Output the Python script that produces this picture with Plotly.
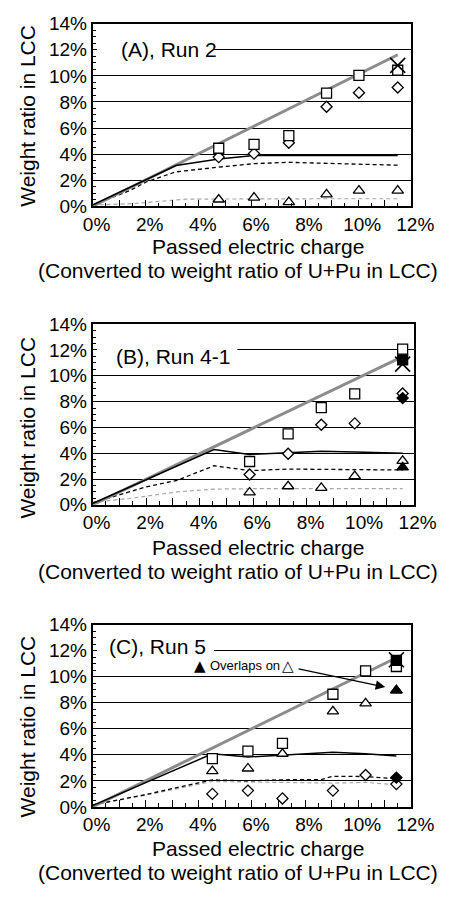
import plotly.graph_objects as go

# ---------------- data ----------------
# Panel A, Run 2
xA = [4.75, 6.08, 7.39, 8.81, 10.03, 11.49]
sqA = [4.45, 4.74, 5.41, 8.68, 10.03, 10.43]
diA = [3.77, 4.04, 4.87, 7.63, 8.71, 9.11]
trA = [0.52, 0.67, 0.32, 0.92, 1.20, 1.20]
xmA_x = [11.49]
xmA_y = [10.80]
theoA_x = [0, 11.49]
theoA_y = [0, 11.62]
solidA_x = [0, 3.14, 4.75, 6.08, 7.39, 8.81, 10.03, 11.49]
solidA_y = [0.10, 3.12, 3.62, 3.89, 3.89, 3.89, 3.89, 3.89]
dashA_x = [0, 1.4, 2.0, 3.14, 4.75, 6.08, 7.39, 8.81, 10.03, 11.49]
dashA_y = [0.10, 1.20, 1.85, 2.64, 3.00, 3.27, 3.37, 3.28, 3.25, 3.15]
gdashA_x = [0, 1.5, 3.5, 4.75, 6.08, 7.39, 8.81, 10.03, 11.49]
gdashA_y = [0.10, 0.20, 0.55, 0.57, 0.58, 0.58, 0.58, 0.58, 0.58]

# Panel B, Run 4-1
xB = [5.87, 7.31, 8.55, 9.80, 11.59]
sqB = [3.36, 5.50, 7.54, 8.60, 12.06]
diB = [2.35, 3.96, 6.21, 6.31, 8.63]
trB = [0.96, 1.44, 1.31, 2.22, 3.41]
fillB_x = [11.59]
fsqB = [11.23]
fdiB = [8.27]
ftrB = [2.90]
xmB_y = [10.90]
theoB_x = [0, 11.59]
theoB_y = [0, 11.48]
solidB_x = [0, 4.54, 5.87, 7.31, 8.55, 9.80, 11.59]
solidB_y = [0.10, 4.29, 3.91, 4.04, 4.16, 4.09, 3.99]
dashB_x = [0, 2.0, 3.16, 4.54, 5.87, 7.31, 8.55, 9.80, 11.59]
dashB_y = [0.15, 1.39, 1.90, 3.03, 2.65, 2.77, 2.75, 2.72, 2.70]
gdashB_x = [0, 1.4, 3.16, 4.54, 5.87, 7.31, 8.55, 9.80, 11.59]
gdashB_y = [0.20, 0.50, 1.00, 1.22, 1.25, 1.25, 1.25, 1.25, 1.25]

# Panel C, Run 5
xC = [4.51, 5.85, 7.15, 9.05, 10.28, 11.44]
sqC = [3.70, 4.28, 4.88, 8.65, 10.45, 10.78]
diC = [1.00, 1.25, 0.65, 1.25, 2.45, 1.75]
trC = [2.75, 2.95, 4.08, 7.33, 7.95, 8.95]
fillC_x = [11.44]
fsqC = [11.25]
fdiC = [2.25]
ftrC = [8.95]
xmC_y = [11.30]
theoC_x = [0, 11.44]
theoC_y = [0, 11.45]
solidC_x = [0, 4.51, 5.85, 7.15, 9.05, 10.28, 11.44]
solidC_y = [0.10, 4.08, 3.83, 4.00, 4.20, 4.08, 3.90]
dashC_x = [0, 2.0, 4.51, 5.85, 7.15, 8.6, 9.05, 10.28, 11.44]
dashC_y = [0.15, 0.95, 2.08, 2.00, 2.08, 2.10, 2.35, 2.33, 2.15]
gdashC_x = [0, 2.0, 4.51, 5.85, 7.15, 9.05, 10.28, 11.44]
gdashC_y = [0.15, 0.90, 1.95, 1.90, 1.88, 1.83, 1.88, 1.70]

x_tickvals = list(range(0, 13))
x_ticktext = [f"{v}%" if v % 2 == 0 else "" for v in x_tickvals]
y_tickvals = list(range(0, 15, 2))
y_ticktext = [f"{v}%" for v in y_tickvals]

panel_labels = ["(A), Run 2", "(B), Run 4-1", "(C), Run 5"]
x_title1 = "Passed electric charge"
x_title2 = "(Converted to weight ratio of U+Pu in LCC)"
y_title = "Weight ratio in LCC"
note_sym1 = "▲"
note_text = "Overlaps on"
note_sym2 = "△"

# ---------------- figure ----------------
W, H = 457, 897
FONT = "Liberation Sans, Arial, Helvetica, sans-serif"
SYMFONT = "DejaVu Sans"
GRAY = "#8c8c8c"
LGRAY = "#a8a8a8"


def px(p):
    return p / W


def py(p):
    return 1 - p / H


fig = go.Figure()

panels = [
    dict(ax="", top=14, bot=201, right=432.5,
         theo=(theoA_x, theoA_y), solid=(solidA_x, solidA_y), dash=(dashA_x, dashA_y),
         gdash=(gdashA_x, gdashA_y), x=xA, sq=sqA, di=diA, tr=trA,
         fx=None, xm=(xmA_x, xmA_y)),
    dict(ax="2", top=321.7, bot=506.7, right=435,
         theo=(theoB_x, theoB_y), solid=(solidB_x, solidB_y), dash=(dashB_x, dashB_y),
         gdash=(gdashB_x, gdashB_y), x=xB, sq=sqB, di=diB, tr=trB,
         fx=(fillB_x, fsqB, fdiB, ftrB), xm=(fillB_x, xmB_y)),
    dict(ax="3", top=629.3, bot=816, right=432.5,
         theo=(theoC_x, theoC_y), solid=(solidC_x, solidC_y), dash=(dashC_x, dashC_y),
         gdash=(gdashC_x, gdashC_y), x=xC, sq=sqC, di=diC, tr=trC,
         fx=(fillC_x, fsqC, fdiC, ftrC), xm=(fillC_x, xmC_y)),
]

mk_line = dict(color="black", width=1.3)
for p in panels:
    xa, ya = "x" + p["ax"], "y" + p["ax"]
    common = dict(xaxis=xa, yaxis=ya, showlegend=False, hoverinfo="skip")
    fig.add_trace(go.Scatter(x=p["gdash"][0], y=p["gdash"][1], mode="lines",
                             line=dict(color=LGRAY, width=1.2, dash="4px,3px"), **common))
    fig.add_trace(go.Scatter(x=p["dash"][0], y=p["dash"][1], mode="lines",
                             line=dict(color="black", width=1.3, dash="4px,3px"), **common))
    fig.add_trace(go.Scatter(x=p["theo"][0], y=p["theo"][1], mode="lines",
                             line=dict(color=GRAY, width=3), **common))
    fig.add_trace(go.Scatter(x=p["solid"][0], y=p["solid"][1], mode="lines",
                             line=dict(color="black", width=1.5), **common))
    fig.add_trace(go.Scatter(x=p["x"], y=p["tr"], mode="markers",
                             marker=dict(symbol="triangle-up", size=10, color="white", line=mk_line), **common))
    fig.add_trace(go.Scatter(x=p["x"], y=p["di"], mode="markers",
                             marker=dict(symbol="diamond", size=8.5, color="white", line=mk_line), **common))
    fig.add_trace(go.Scatter(x=p["x"], y=p["sq"], mode="markers",
                             marker=dict(symbol="square", size=10, color="white", line=mk_line), **common))
    if p["fx"] is not None:
        fxx, fsq, fdi, ftr = p["fx"]
        fig.add_trace(go.Scatter(x=fxx, y=ftr, mode="markers",
                                 marker=dict(symbol="triangle-up", size=10, color="black", line=mk_line), **common))
        fig.add_trace(go.Scatter(x=fxx, y=fdi, mode="markers",
                                 marker=dict(symbol="diamond", size=8.5, color="black", line=mk_line), **common))
        fig.add_trace(go.Scatter(x=fxx, y=fsq, mode="markers",
                                 marker=dict(symbol="square", size=10, color="black", line=mk_line), **common))
    fig.add_trace(go.Scatter(x=p["xm"][0], y=p["xm"][1], mode="markers",
                             marker=dict(symbol="x-thin-open", size=15, color="black",
                                         line=dict(color="black", width=1.6)), **common))

    xname = "xaxis" + p["ax"]
    yname = "yaxis" + p["ax"]
    fig.layout[xname] = dict(
        domain=[px(89), px(p["right"])], range=[0, 12], anchor=ya,
        tickmode="array", tickvals=x_tickvals, ticktext=x_ticktext,
        ticks="inside", ticklen=7, tickwidth=1, tickcolor="black",
        minor=dict(dtick=0.5, tick0=0, ticks="inside", ticklen=4, tickwidth=1, tickcolor="black", showgrid=False),
        showgrid=False, zeroline=False, showline=True, mirror=True, linecolor="black", linewidth=1.5,
        tickfont=dict(size=19, color="black", family=FONT), ticklabelshift=4,
        fixedrange=True,
    )
    fig.layout[yname] = dict(
        domain=[py(p["bot"]), py(p["top"])], range=[0, 14], anchor=xa,
        tickmode="array", tickvals=y_tickvals, ticktext=y_ticktext,
        ticks="inside", ticklen=5, tickwidth=1, tickcolor="black",
        minor=dict(dtick=0.5, tick0=0, ticks="inside", ticklen=4, tickwidth=1, tickcolor="black", showgrid=False),
        showgrid=True, gridcolor="black", gridwidth=1.2,
        zeroline=False, showline=True, mirror=True, linecolor="black", linewidth=1.5,
        tickfont=dict(size=19, color="black", family=FONT),
        fixedrange=True,
    )

# white boxes hiding the 12% gridline behind the panel labels
box_right = [4.55, 5.41, 4.57]
shapes = []
for p, xr in zip(panels, box_right):
    shapes.append(dict(type="rect", xref="x" + p["ax"], yref="y" + p["ax"], layer="between",
                       x0=0, x1=xr, y0=11.3, y1=12.7, fillcolor="white", line=dict(width=0)))
fig.update_layout(shapes=shapes)

annotations = []
label_pos = [(117, 40), (111.7, 355), (105, 651.7)]
for txt, (lx, ly) in zip(panel_labels, label_pos):
    annotations.append(dict(text=txt, x=px(lx), y=py(ly), xref="paper", yref="paper",
                            xanchor="left", yanchor="middle", showarrow=False,
                            font=dict(size=21, color="black", family=FONT)))

for p, (yc, t1, t2) in zip(panels, [(108.7, 241.7, 266.7), (428, 550, 575), (734, 858.3, 883.3)]):
    annotations.append(dict(text=y_title, x=px(19), y=py(yc), xref="paper", yref="paper",
                            textangle=-90, xanchor="center", yanchor="middle", showarrow=False,
                            font=dict(size=21, color="black", family=FONT)))
    annotations.append(dict(text=x_title1, x=px(267), y=py(t1), xref="paper", yref="paper",
                            xanchor="center", yanchor="middle", showarrow=False,
                            font=dict(size=21, color="black", family=FONT)))
    annotations.append(dict(text=x_title2, x=px(246), y=py(t2), xref="paper", yref="paper",
                            xanchor="center", yanchor="middle", showarrow=False,
                            font=dict(size=21, color="black", family=FONT)))

# note + arrow in panel C
annotations.append(dict(text=note_sym1, x=px(205), y=py(671.5), xref="paper", yref="paper",
                        xanchor="center", yanchor="middle", showarrow=False,
                        font=dict(size=15, color="black", family=SYMFONT)))
annotations.append(dict(text=note_text, x=px(213), y=py(671.7), xref="paper", yref="paper",
                        xanchor="left", yanchor="middle", showarrow=False,
                        font=dict(size=13, color="black", family=FONT)))
annotations.append(dict(text=note_sym2, x=px(300), y=py(671.5), xref="paper", yref="paper",
                        xanchor="center", yanchor="middle", showarrow=False,
                        font=dict(size=15, color="black", family=SYMFONT)))
annotations.append(dict(text="", x=11.02, y=9.2, xref="x3", yref="y3",
                        ax=7.70, ay=10.62, axref="x3", ayref="y3",
                        showarrow=True, arrowhead=2, arrowsize=1.6, arrowwidth=1.2,
                        arrowcolor="black", standoff=0, startstandoff=0))

fig.update_layout(
    annotations=annotations,
    width=W, height=H,
    margin=dict(l=0, r=0, t=0, b=0),
    paper_bgcolor="white", plot_bgcolor="white",
    font=dict(family=FONT, color="black"),
    showlegend=False,
)

fig.write_html(
    "out.html",
    config={"displayModeBar": False},
    post_script="document.body.style.margin='0px';document.body.style.overflow='hidden';",
)
